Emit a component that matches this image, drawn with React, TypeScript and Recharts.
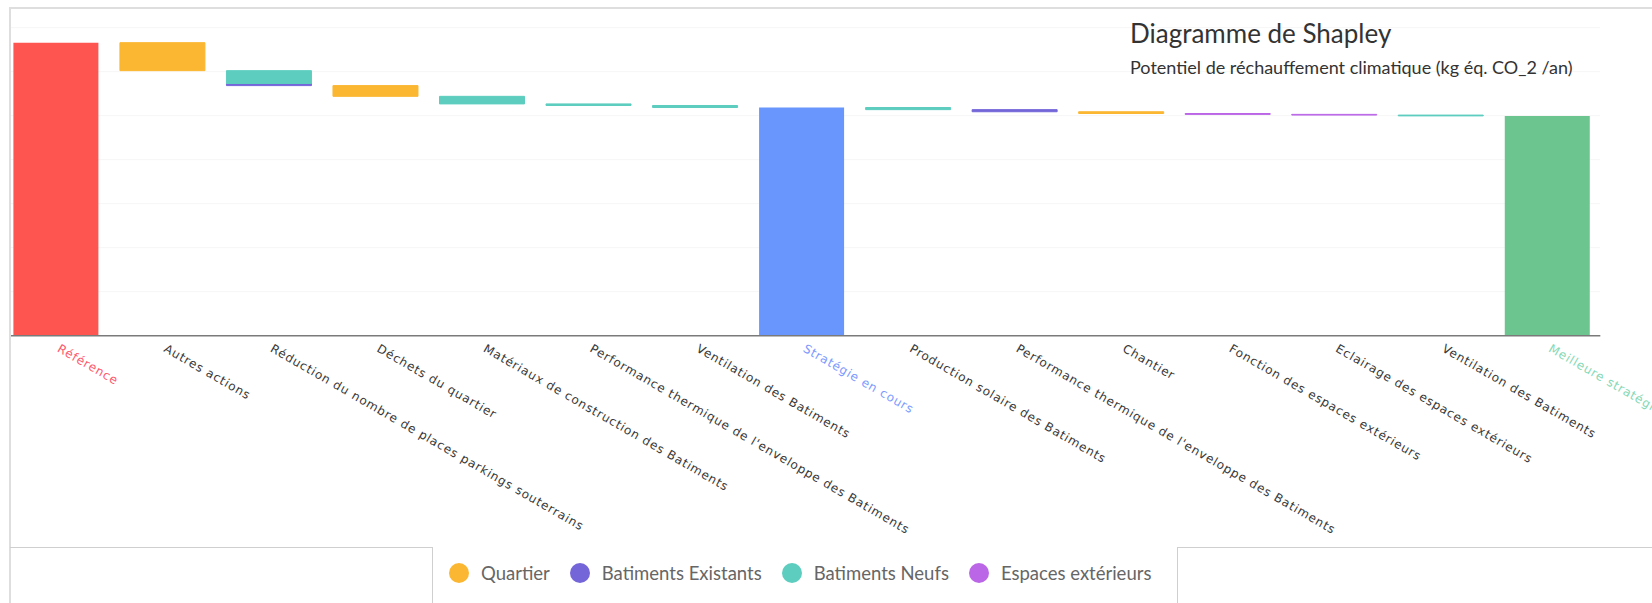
import React from "react";
import { BarChart, Bar, XAxis, YAxis, CartesianGrid, Cell, Legend } from "recharts";

// Shapley waterfall: three totals with the contribution of each action in between
const categories = [
  "Référence",
  "Autres actions",
  "Réduction du nombre de places parkings souterrains",
  "Déchets du quartier",
  "Matériaux de construction des Batiments",
  "Performance thermique de l'enveloppe des Batiments",
  "Ventilation des Batiments",
  "Stratégie en cours",
  "Production solaire des Batiments",
  "Performance thermique de l'enveloppe des Batiments ",
  "Chantier",
  "Fonction des espaces extérieurs",
  "Eclairage des espaces extérieurs",
  "Ventilation des Batiments ",
  "Meilleure stratégie",
];

const totals = [3330, 0, 0, 0, 0, 0, 0, 2593, 0, 0, 0, 0, 0, 0, 2498];
const quartier = [0, 318, 0, 122, 0, 0, 0, 0, 0, 0, 20, 0, 0, 0, 0];
const batimentsExistants = [0, 0, 24, 0, 0, 0, 0, 0, 0, 24, 0, 0, 0, 0, 0];
const batimentsNeufs = [0, 0, 146, 0, 86, 18, 23, 0, 24, 0, 0, 0, 0, 9, 0];
const espacesExterieurs = [0, 0, 0, 0, 0, 0, 0, 0, 0, 0, 0, 10, 8, 0, 0];

const yTicks = [0, 500, 1000, 1500, 2000, 2500, 3000, 3500];

const totalColors = ["#ff5550", "#6896fc", "#6cc48f"];
const labelColors: Record<number, string> = { 0: "#ff5a6e", 7: "#7d9bff", 14: "#86d9b6" };

const COLORS = {
  quartier: "#fbb732",
  existants: "#7466d9",
  neufs: "#5dcdbf",
  espaces: "#bb66e6",
};

const legendOrder = ["Quartier", "Batiments Existants", "Batiments Neufs", "Espaces extérieurs"];

// invisible base under every step so each contribution floats at the running total
let running = 0;
const rows = categories.map((name, i) => {
  const step = quartier[i] + batimentsExistants[i] + batimentsNeufs[i] + espacesExterieurs[i];
  let base = 0;
  if (totals[i] > 0) {
    running = totals[i];
  } else {
    running -= step;
    base = running;
  }
  return {
    name,
    base,
    total: totals[i],
    quartier: quartier[i],
    existants: batimentsExistants[i],
    neufs: batimentsNeufs[i],
    espaces: espacesExterieurs[i],
  };
});

const totalIndexes = totals.map((t, i) => (t > 0 ? i : -1)).filter((i) => i >= 0);

function AxisTick({ x, y, payload }: any) {
  const fill = labelColors[payload.index] ?? "#3a3a3a";
  const tx = x + 5;
  return (
    <text
      x={tx}
      y={y}
      dy="0.7em"
      transform={`rotate(30, ${tx}, ${y})`}
      textAnchor="start"
      fill={fill}
      fontFamily="DejaVu Sans"
      fontSize={12}
      letterSpacing={0.85}
    >
      {payload.value}
    </text>
  );
}

function LegendContent({ payload }: any) {
  const items = legendOrder
    .map((name) => (payload || []).find((p: any) => p.value === name))
    .filter(Boolean);
  return (
    <div
      style={{
        display: "flex",
        alignItems: "center",
        fontFamily: "Lato",
        fontSize: 18.5,
        color: "#666",
        whiteSpace: "nowrap",
      }}
    >
      {items.map((p: any) => (
        <div key={p.value} style={{ display: "flex", alignItems: "center", marginRight: 20 }}>
          <span
            style={{
              display: "inline-block",
              width: 20,
              height: 20,
              borderRadius: "50%",
              background: p.color,
              marginRight: 12,
            }}
          />
          <span>{p.value}</span>
        </div>
      ))}
    </div>
  );
}

export default function App() {
  return (
    <div
      style={{
        position: "absolute",
        left: 0,
        top: 0,
        width: 1652,
        height: 603,
        overflow: "hidden",
        background: "#fff",
      }}
    >
      <div
        style={{
          position: "absolute",
          left: 9,
          top: 7,
          width: 1700,
          height: 700,
          border: "2px solid #dedede",
          boxSizing: "border-box",
        }}
      />
      <div style={{ position: "absolute", left: 11, top: 0, width: 1641, height: 603, overflow: "hidden" }}>
        <div style={{ position: "absolute", left: -11, top: 0 }}>
          <BarChart
            width={1652}
            height={603}
            data={rows}
            margin={{ top: 27.7, right: 51.7, left: 2.4, bottom: 67.3 }}
          >
            <CartesianGrid vertical={false} stroke="#f6f6f6" />
            <XAxis
              dataKey="name"
              interval={0}
              height={200}
              tickLine={false}
              axisLine={{ stroke: "#7a7a7a", strokeWidth: 1.5 }}
              tick={<AxisTick />}
            />
            <YAxis hide domain={[0, 3500]} ticks={yTicks} />
            <Bar dataKey="base" stackId="w" fill="transparent" legendType="none" isAnimationActive={false} barSize={85} />
            <Bar dataKey="existants" name="Batiments Existants" stackId="w" fill={COLORS.existants} stroke={COLORS.existants} strokeWidth={1} isAnimationActive={false} barSize={85} />
            <Bar dataKey="neufs" name="Batiments Neufs" stackId="w" fill={COLORS.neufs} stroke={COLORS.neufs} strokeWidth={1} isAnimationActive={false} barSize={85} />
            <Bar dataKey="quartier" name="Quartier" stackId="w" fill={COLORS.quartier} stroke={COLORS.quartier} strokeWidth={1} isAnimationActive={false} barSize={85} />
            <Bar dataKey="espaces" name="Espaces extérieurs" stackId="w" fill={COLORS.espaces} stroke={COLORS.espaces} strokeWidth={1} isAnimationActive={false} barSize={85} />
            <Bar dataKey="total" stackId="w" legendType="none" isAnimationActive={false} barSize={85}>
              {rows.map((_, i) => (
                <Cell key={i} fill={totalColors[Math.max(0, totalIndexes.indexOf(i))]} />
              ))}
            </Bar>
            <Legend
              layout="horizontal"
              verticalAlign="middle"
              align="center"
              content={<LegendContent />}
              wrapperStyle={{ left: 449, top: 562, width: 780 }}
            />
          </BarChart>
        </div>
      </div>
      <div
        style={{
          position: "absolute",
          left: 10,
          top: 547,
          width: 423,
          height: 80,
          borderTop: "1px solid #cfcfcf",
          borderRight: "1px solid #cfcfcf",
          boxSizing: "border-box",
        }}
      />
      <div
        style={{
          position: "absolute",
          left: 1177,
          top: 547,
          width: 500,
          height: 80,
          borderTop: "1px solid #cfcfcf",
          borderLeft: "1px solid #cfcfcf",
          boxSizing: "border-box",
        }}
      />
      <div
        style={{
          position: "absolute",
          left: 1130,
          top: 19.5,
          fontFamily: "Lato",
          fontSize: 26,
          lineHeight: "26px",
          color: "#333",
          whiteSpace: "nowrap",
        }}
      >
        Diagramme de Shapley
      </div>
      <div
        style={{
          position: "absolute",
          left: 1130,
          top: 58,
          fontFamily: "Lato",
          fontSize: 18,
          lineHeight: "18px",
          color: "#333",
          whiteSpace: "nowrap",
        }}
      >
        Potentiel de réchauffement climatique (kg éq. CO_2 /an)
      </div>
    </div>
  );
}
